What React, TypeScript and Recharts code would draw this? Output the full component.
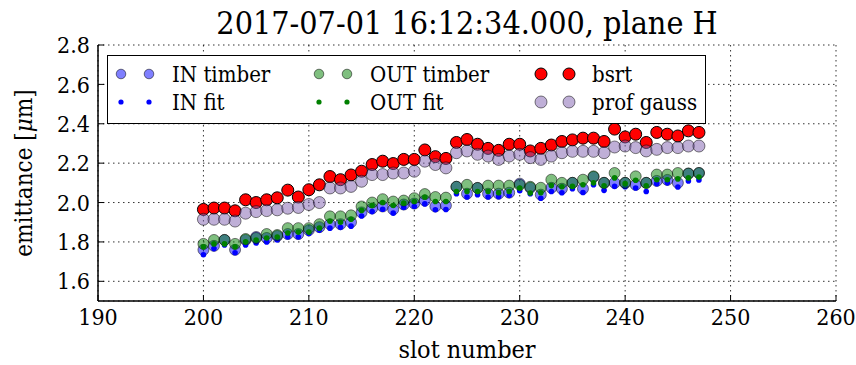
import React from "react";
import { ScatterChart, Scatter, XAxis, YAxis, CartesianGrid, Legend, Label } from "recharts";

const slots = [200, 201, 202, 203, 204, 205, 206, 207, 208, 209, 210, 211, 212, 213, 214, 215, 216, 217, 218, 219, 220, 221, 222, 223, 224, 225, 226, 227, 228, 229, 230, 231, 232, 233, 234, 235, 236, 237, 238, 239, 240, 241, 242, 243, 244, 245, 246, 247];

const inTimber = [1.76, 1.78, 1.81, 1.76, 1.81, 1.825, 1.82, 1.83, 1.84, 1.84, 1.86, 1.875, 1.89, 1.89, 1.9, 1.95, 1.97, 1.98, 1.965, 1.99, 1.995, 2.01, 1.98, 1.985, 2.08, 2.045, 2.074, 2.045, 2.045, 2.05, 2.096, 2.075, 2.04, 2.075, 2.07, 2.1, 2.07, 2.13, 2.1, 2.1, 2.1, 2.09, 2.1, 2.11, 2.115, 2.1, 2.147, 2.15];
const inFit = [1.735, 1.766, 1.785, 1.745, 1.785, 1.795, 1.8, 1.81, 1.825, 1.825, 1.843, 1.86, 1.87, 1.874, 1.88, 1.932, 1.954, 1.966, 1.946, 1.975, 1.98, 1.993, 1.963, 1.965, 2.045, 2.028, 2.04, 2.028, 2.03, 2.036, 2.06, 2.045, 2.022, 2.056, 2.05, 2.07, 2.051, 2.09, 2.062, 2.082, 2.08, 2.074, 2.056, 2.096, 2.1, 2.079, 2.11, 2.115];
const outTimber = [1.79, 1.81, 1.81, 1.79, 1.815, 1.82, 1.84, 1.835, 1.87, 1.87, 1.87, 1.89, 1.93, 1.93, 1.935, 1.98, 2.0, 2.017, 2.005, 2.01, 2.022, 2.043, 2.028, 2.025, 2.08, 2.09, 2.074, 2.086, 2.086, 2.086, 2.09, 2.08, 2.075, 2.116, 2.1, 2.1, 2.116, 2.133, 2.1, 2.15, 2.1, 2.133, 2.1, 2.142, 2.142, 2.15, 2.147, 2.15];
const outFit = [1.775, 1.79, 1.79, 1.775, 1.8, 1.81, 1.82, 1.825, 1.845, 1.85, 1.85, 1.87, 1.905, 1.9, 1.915, 1.96, 1.985, 2.0, 1.985, 1.997, 2.005, 2.028, 2.005, 2.005, 2.056, 2.056, 2.056, 2.056, 2.05, 2.056, 2.074, 2.048, 2.05, 2.086, 2.08, 2.082, 2.09, 2.1, 2.085, 2.125, 2.096, 2.113, 2.085, 2.116, 2.116, 2.12, 2.125, 2.13];
const bsrt = [1.965, 1.972, 1.972, 1.958, 2.014, 2.0, 2.014, 2.024, 2.063, 2.028, 2.065, 2.09, 2.132, 2.116, 2.14, 2.159, 2.193, 2.21, 2.198, 2.219, 2.219, 2.267, 2.233, 2.224, 2.305, 2.32, 2.296, 2.275, 2.265, 2.296, 2.296, 2.262, 2.275, 2.292, 2.31, 2.318, 2.327, 2.327, 2.31, 2.373, 2.333, 2.347, 2.305, 2.356, 2.347, 2.338, 2.364, 2.356];
const profGauss = [1.915, 1.915, 1.915, 1.906, 1.946, 1.954, 1.959, 1.963, 1.971, 1.975, 1.99, 2.0, 2.074, 2.074, 2.082, 2.108, 2.142, 2.142, 2.15, 2.15, 2.159, 2.21, 2.193, 2.176, 2.253, 2.262, 2.245, 2.236, 2.219, 2.236, 2.245, 2.228, 2.219, 2.236, 2.253, 2.26, 2.26, 2.26, 2.253, 2.282, 2.287, 2.279, 2.262, 2.27, 2.279, 2.279, 2.287, 2.287];

const xTicks = [190, 200, 210, 220, 230, 240, 250, 260];
const yTicks = [1.6, 1.8, 2.0, 2.2, 2.4, 2.6, 2.8];
const seriesNames = ["IN timber", "IN fit", "OUT timber", "OUT fit", "bsrt", "prof gauss"];
const titleText = "2017-07-01 16:12:34.000, plane H";

const FONT = "'DejaVu Serif Condensed', 'DejaVu Serif', serif";

type Sty = { r: number; fill: string; fo: number; stroke: string; so: number };
const styles: Sty[] = [
  { r: 5.5, fill: "#0000ff", fo: 0.5, stroke: "#000", so: 0.5 },
  { r: 2.8, fill: "#0000ff", fo: 1, stroke: "#0000ff", so: 0 },
  { r: 5.5, fill: "#008000", fo: 0.5, stroke: "#000", so: 0.5 },
  { r: 2.8, fill: "#008000", fo: 1, stroke: "#008000", so: 0 },
  { r: 6, fill: "#ff0000", fo: 1, stroke: "#000", so: 1 },
  { r: 6, fill: "#7f5fb0", fo: 0.5, stroke: "#000", so: 0.5 },
];

const mk = (s: Sty) => (props: any) => (
  <circle cx={props.cx} cy={props.cy} r={s.r} fill={s.fill} fillOpacity={s.fo} stroke={s.stroke} strokeOpacity={s.so} strokeWidth={1} />
);

const seriesValues = [inTimber, inFit, outTimber, outFit, bsrt, profGauss];
const seriesData = seriesValues.map((vals) => slots.map((x, i) => ({ x, y: vals[i] })));

const legendOrder = [
  [0, 2, 4],
  [1, 3, 5],
];
const colX = [13, 211, 433];

const LegendBox = () => (
  <svg width={599} height={69} style={{ display: "block" }}>
    <rect x={0.5} y={0.5} width={598} height={68} fill="#fff" stroke="#000" strokeWidth={1} />
    {legendOrder.map((row, ri) =>
      row.map((si, ci) => {
        const s = styles[si];
        const cy = 19 + ri * 28;
        const x0 = colX[ci];
        const r = s.r > 5 ? (si >= 4 ? 6 : 4.8) : 2.6;
        return (
          <g key={si}>
            <circle cx={x0 + 1} cy={cy} r={r} fill={s.fill} fillOpacity={s.fo} stroke={s.stroke} strokeOpacity={s.so} />
            <circle cx={x0 + 29} cy={cy} r={r} fill={s.fill} fillOpacity={s.fo} stroke={s.stroke} strokeOpacity={s.so} />
            <text x={x0 + 52} y={cy} dy="0.35em" fontFamily={FONT} fontSize={22} fill="#000">
              {seriesNames[si]}
            </text>
          </g>
        );
      })
    )}
  </svg>
);

const YLabel = (props: any) => {
  const vb = props.viewBox || { x: 0, y: 45, width: 98, height: 256 };
  const cx = 24;
  const cy = vb.y + vb.height / 2;
  return (
    <text x={cx} y={cy} transform={`rotate(-90 ${cx} ${cy})`} textAnchor="middle" dominantBaseline="central" fontFamily={FONT} fontSize={24} fill="#000">
      emittance [<tspan fontStyle="italic">μ</tspan>m]
    </text>
  );
};

const XLabel = (props: any) => {
  const vb = props.viewBox || { x: 98, y: 301, width: 738, height: 64 };
  return (
    <text x={vb.x + vb.width / 2} y={349} textAnchor="middle" dominantBaseline="central" fontFamily={FONT} fontSize={25} fill="#000">
      slot number
    </text>
  );
};

const tickStyle = { fontFamily: FONT, fontSize: 23, fill: "#000" };
const axisLine = { stroke: "#000", strokeWidth: 1.5 };
const tickLine = { stroke: "#000", strokeWidth: 1 };

export default function App() {
  return (
    <div style={{ position: "fixed", left: 0, top: 0, width: 856, height: 365, background: "#fff" }}>
      <div style={{ position: "absolute", left: 98, width: 738, top: 3, textAlign: "center", fontFamily: FONT, fontSize: 32, lineHeight: "40px", color: "#000", whiteSpace: "nowrap" }}>
        {titleText}
      </div>
      <ScatterChart width={856} height={365} margin={{ top: 45, right: 20, bottom: 0, left: 0 }}>
        <CartesianGrid stroke="#000" strokeWidth={1} strokeDasharray="1.5 3.5" strokeOpacity={0.8} />
        <XAxis dataKey="x" type="number" domain={[190, 260]} ticks={xTicks} allowDataOverflow height={64} tick={tickStyle} tickSize={-6} tickMargin={14} axisLine={axisLine} tickLine={tickLine} interval={0}>
          <Label content={<XLabel />} />
        </XAxis>
        <XAxis xAxisId="top" orientation="top" dataKey="x" type="number" domain={[190, 260]} ticks={xTicks} allowDataOverflow height={0} tickFormatter={() => ""} tickSize={-6} axisLine={axisLine} tickLine={tickLine} interval={0} />
        <YAxis dataKey="y" type="number" domain={[1.5, 2.8]} ticks={yTicks} allowDataOverflow width={98} tick={tickStyle} tickSize={-6} tickMargin={14} axisLine={axisLine} tickLine={tickLine} interval={0} tickFormatter={(v: number) => v.toFixed(1)}>
          <Label content={<YLabel />} />
        </YAxis>
        <YAxis yAxisId="right" orientation="right" dataKey="y" type="number" domain={[1.5, 2.8]} ticks={yTicks} allowDataOverflow width={0} tickFormatter={() => ""} tickSize={-6} axisLine={axisLine} tickLine={tickLine} interval={0} />
        {seriesData.map((d, i) => (
          <Scatter key={seriesNames[i]} name={seriesNames[i]} data={d} shape={mk(styles[i])} isAnimationActive={false} />
        ))}
        <Legend content={() => <LegendBox />} layout="horizontal" verticalAlign="middle" align="center" wrapperStyle={{ position: "absolute", left: 107, top: 55, width: 599, height: 69 }} />
      </ScatterChart>
    </div>
  );
}
